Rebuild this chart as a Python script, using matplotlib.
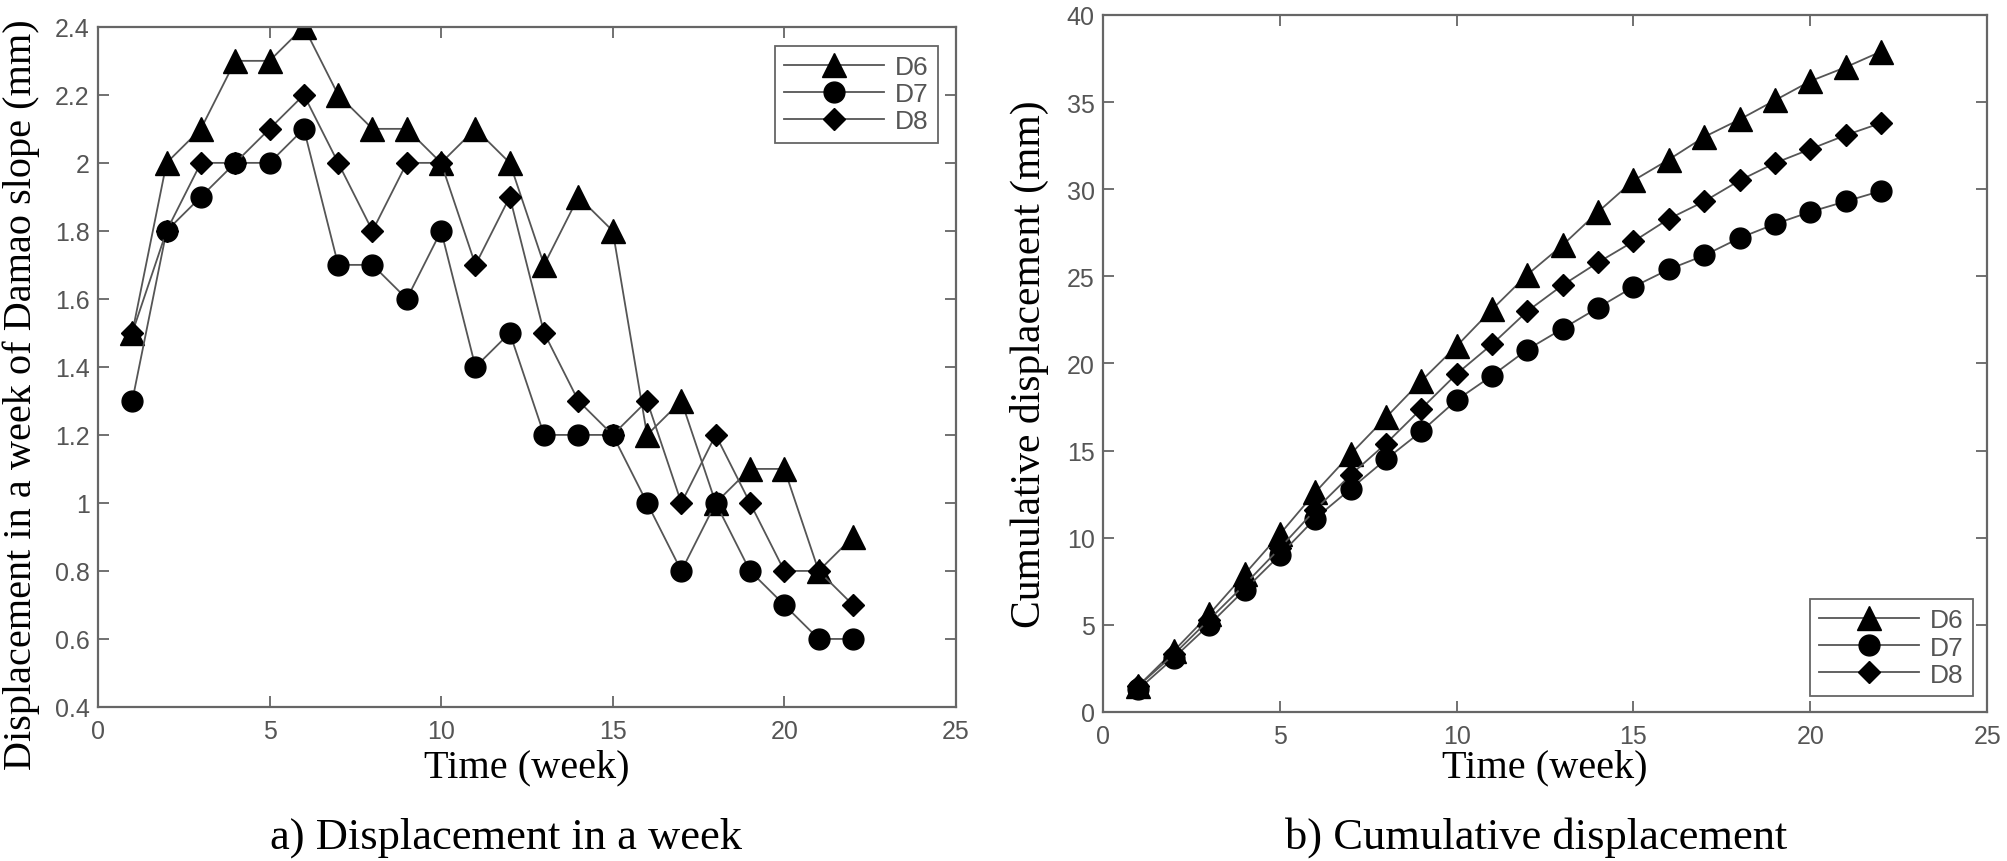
import numpy as np
import matplotlib
matplotlib.use('Agg')
import matplotlib.pyplot as plt
from matplotlib.ticker import FuncFormatter

weeks = np.arange(1, 23)

# weekly displacement (mm)
d6_week = [1.5, 2.0, 2.1, 2.3, 2.3, 2.4, 2.2, 2.1, 2.1, 2.0, 2.1,
           2.0, 1.7, 1.9, 1.8, 1.2, 1.3, 1.0, 1.1, 1.1, 0.8, 0.9]
d7_week = [1.3, 1.8, 1.9, 2.0, 2.0, 2.1, 1.7, 1.7, 1.6, 1.8, 1.4,
           1.5, 1.2, 1.2, 1.2, 1.0, 0.8, 1.0, 0.8, 0.7, 0.6, 0.6]
d8_week = [1.5, 1.8, 2.0, 2.0, 2.1, 2.2, 2.0, 1.8, 2.0, 2.0, 1.7,
           1.9, 1.5, 1.3, 1.2, 1.3, 1.0, 1.2, 1.0, 0.8, 0.8, 0.7]

# cumulative displacement (mm)
d6_cum = [1.5, 3.5, 5.6, 7.9, 10.2, 12.6, 14.8, 16.9, 19.0, 21.0, 23.1,
          25.1, 26.8, 28.7, 30.5, 31.7, 33.0, 34.0, 35.1, 36.2, 37.0, 37.9]
d7_cum = [1.3, 3.1, 5.0, 7.0, 9.0, 11.1, 12.8, 14.5, 16.1, 17.9, 19.3,
          20.8, 22.0, 23.2, 24.4, 25.4, 26.2, 27.2, 28.0, 28.7, 29.3, 29.9]
d8_cum = [1.5, 3.3, 5.3, 7.3, 9.4, 11.6, 13.6, 15.4, 17.4, 19.4, 21.1,
          23.0, 24.5, 25.8, 27.0, 28.3, 29.3, 30.5, 31.5, 32.3, 33.1, 33.8]

names = ['D6', 'D7', 'D8']

line_col = '#555555'
axis_col = '#666666'
txt_col = '#555555'
serif = ['Liberation Serif', 'DejaVu Serif']
sans = ['Liberation Sans', 'DejaVu Sans']

plt.rcParams['font.family'] = sans

fig = plt.figure(figsize=(20.07, 8.62), dpi=100)
ax_w = fig.add_axes([0.0488, 0.1787, 0.4275, 0.789])
ax_c = fig.add_axes([0.5496, 0.1729, 0.4405, 0.8086])

styles = [dict(marker='^', ms=17), dict(marker='o', ms=15), dict(marker='D', ms=11)]

def draw(ax, series):
    for s, st, name in zip(series, styles, names):
        ax.plot(weeks, s, color=line_col, lw=1.3, marker=st['marker'], ms=st['ms'],
                mfc='black', mec='black', label=name)
    for sp in ax.spines.values():
        sp.set_color(axis_col)
        sp.set_linewidth(1.6)
    ax.tick_params(direction='in', top=True, right=True, length=8, width=1.3,
                   color=axis_col, labelcolor=txt_col, labelsize=18)
    ax.tick_params(axis='x', pad=9)
    ax.tick_params(axis='y', pad=6)
    ax.set_xlim(0, 25)
    ax.set_xticks(np.arange(0, 26, 5))

def add_legend(ax, loc, anchor):
    leg = ax.legend(loc=loc, bbox_to_anchor=anchor, borderaxespad=0,
                    fancybox=False, framealpha=1, edgecolor=axis_col, fontsize=19,
                    handlelength=3.8, handletextpad=0.4, labelspacing=0.12, borderpad=0.35)
    leg.get_frame().set_linewidth(1.3)
    for t in leg.get_texts():
        t.set_color(txt_col)

fmt = FuncFormatter(lambda v, p: '%g' % round(v, 2))

draw(ax_w, [d6_week, d7_week, d8_week])
ax_w.set_ylim(0.4, 2.4)
ax_w.set_yticks(np.arange(0.4, 2.41, 0.2))
ax_w.yaxis.set_major_formatter(fmt)
ax_w.set_xlabel('Time (week)', family=serif, fontsize=29, va='center')
ax_w.xaxis.set_label_coords(0.5, -0.088)
ax_w.set_ylabel('Displacement in a week of Damao slope (mm)', family=serif,
                fontsize=29, va='center')
ax_w.yaxis.set_label_coords(-0.090, 0.46)
add_legend(ax_w, 'upper right', (0.979, 0.972))

draw(ax_c, [d6_cum, d7_cum, d8_cum])
ax_c.set_ylim(0, 40)
ax_c.set_yticks(np.arange(0, 41, 5))
ax_c.set_xlabel('Time (week)', family=serif, fontsize=29, va='center')
ax_c.xaxis.set_label_coords(0.5, -0.079)
ax_c.set_ylabel('Cumulative displacement (mm)', family=serif, fontsize=30, va='center')
ax_c.yaxis.set_label_coords(-0.083, 0.5)
add_legend(ax_c, 'lower right', (0.984, 0.023))

fig.text(0.252, 0.028, 'a) Displacement in a week', family=serif, fontsize=32,
         ha='center', va='center')
fig.text(0.7655, 0.028, 'b) Cumulative displacement', family=serif, fontsize=32,
         ha='center', va='center')

fig.savefig('out.png', dpi=100)
